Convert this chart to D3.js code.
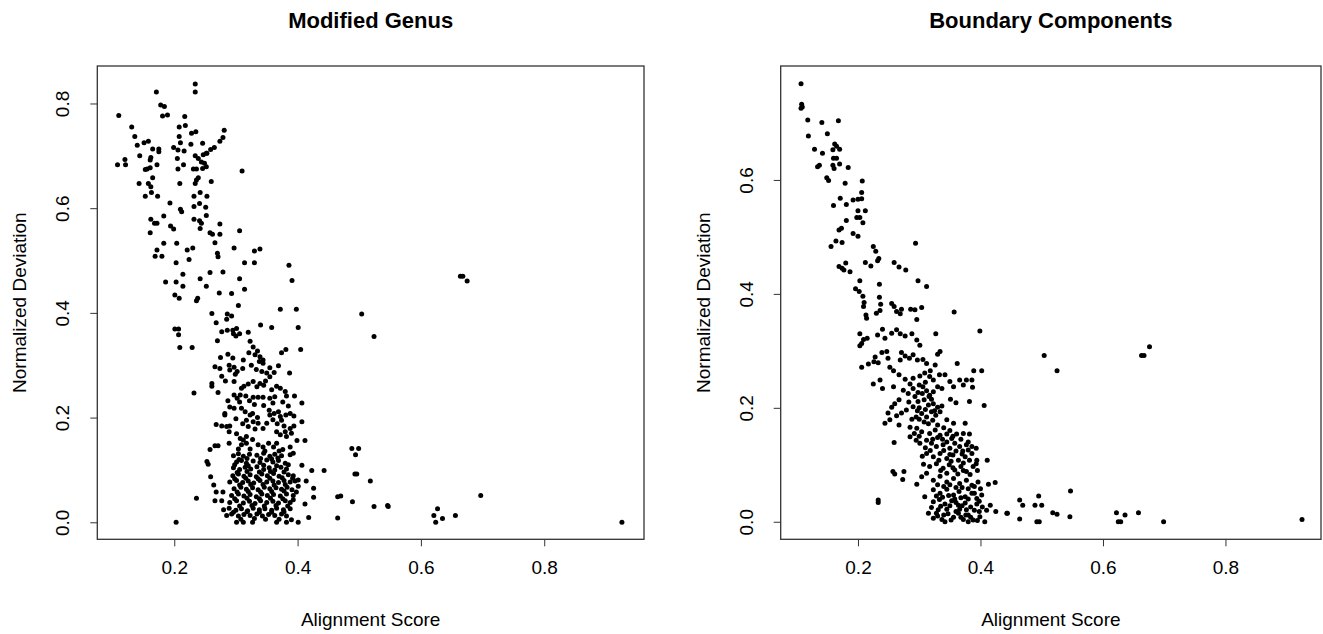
<!DOCTYPE html>
<html>
<head>
<meta charset="utf-8">
<script src="https://cdn.jsdelivr.net/npm/d3@7"></script>
<style>
  body { margin: 0; background: #fff; }
  text { font-family: "Liberation Sans", Arial, Helvetica, sans-serif; fill: #000; }
</style>
</head>
<body>
<div id="app"></div>
<script>
const container = document.querySelector('#app');

const width = 1323;
const height = 634;

// tick labels
const xTicks = [0.2, 0.4, 0.6, 0.8];
const genusYTicks = [0.0, 0.2, 0.4, 0.6, 0.8];
const boundaryYTicks = [0.0, 0.2, 0.4, 0.6];

// Modified Genus: [alignment score, normalized deviation]
const genusPoints = [
  [0.234,0.837],[0.234,0.822],[0.171,0.822],[0.178,0.797],[0.184,0.794],[0.181,0.776],[0.189,0.778],
  [0.110,0.777],[0.131,0.755],[0.136,0.737],[0.140,0.720],[0.151,0.725],[0.158,0.728],[0.217,0.775],
  [0.208,0.755],[0.218,0.758],[0.228,0.743],[0.235,0.746],[0.208,0.737],[0.246,0.724],[0.281,0.749],
  [0.279,0.735],[0.274,0.728],[0.265,0.716],[0.259,0.712],[0.253,0.705],[0.199,0.716],[0.206,0.711],
  [0.216,0.709],[0.210,0.725],[0.227,0.722],[0.165,0.713],[0.175,0.713],[0.175,0.708],[0.162,0.697],
  [0.161,0.692],[0.144,0.700],[0.108,0.683],[0.120,0.693],[0.121,0.683],[0.153,0.674],[0.161,0.677],
  [0.172,0.683],[0.156,0.675],[0.205,0.695],[0.206,0.675],[0.215,0.683],[0.234,0.700],[0.239,0.695],
  [0.247,0.702],[0.252,0.705],[0.244,0.688],[0.249,0.686],[0.252,0.679],[0.246,0.676],[0.236,0.675],
  [0.231,0.675],[0.310,0.671],[0.165,0.658],[0.143,0.647],[0.158,0.647],[0.162,0.641],[0.163,0.630],
  [0.173,0.623],[0.153,0.623],[0.209,0.647],[0.236,0.654],[0.239,0.658],[0.234,0.647],[0.260,0.651],
  [0.232,0.623],[0.242,0.630],[0.253,0.623],[0.193,0.610],[0.210,0.598],[0.212,0.593],[0.183,0.585],
  [0.232,0.603],[0.241,0.609],[0.251,0.602],[0.252,0.586],[0.232,0.579],[0.241,0.576],[0.244,0.571],
  [0.242,0.561],[0.162,0.579],[0.168,0.571],[0.172,0.571],[0.161,0.553],[0.194,0.566],[0.199,0.560],
  [0.258,0.553],[0.262,0.550],[0.274,0.550],[0.274,0.570],[0.306,0.557],[0.266,0.534],[0.183,0.533],
  [0.204,0.533],[0.172,0.520],[0.169,0.508],[0.180,0.508],[0.221,0.520],[0.230,0.524],[0.270,0.514],
  [0.271,0.507],[0.297,0.524],[0.330,0.518],[0.339,0.522],[0.203,0.496],[0.224,0.502],[0.314,0.496],
  [0.330,0.496],[0.386,0.491],[0.214,0.474],[0.258,0.477],[0.279,0.478],[0.391,0.462],[0.186,0.459],
  [0.203,0.459],[0.214,0.451],[0.242,0.465],[0.252,0.451],[0.306,0.465],[0.314,0.445],[0.273,0.438],
  [0.293,0.437],[0.201,0.434],[0.208,0.428],[0.238,0.428],[0.664,0.470],[0.668,0.470],[0.675,0.461],
  [0.236,0.423],[0.304,0.414],[0.372,0.407],[0.398,0.407],[0.261,0.399],[0.268,0.381],[0.286,0.398],
  [0.293,0.394],[0.285,0.388],[0.340,0.377],[0.358,0.372],[0.401,0.372],[0.201,0.369],[0.207,0.369],
  [0.207,0.358],[0.209,0.334],[0.229,0.334],[0.232,0.247],[0.203,0.000],[0.236,0.046],
  [0.277,0.364],[0.286,0.367],[0.295,0.367],[0.301,0.370],[0.296,0.360],[0.306,0.360],[0.320,0.363],
  [0.300,0.356],[0.270,0.347],[0.323,0.346],[0.328,0.335],[0.335,0.327],[0.339,0.316],[0.344,0.310],
  [0.374,0.324],[0.381,0.330],[0.405,0.330],[0.504,0.398],[0.524,0.355],
  [0.287,0.321],[0.295,0.314],[0.275,0.315],[0.266,0.297],[0.274,0.294],[0.289,0.300],[0.297,0.296],
  [0.311,0.294],[0.302,0.288],[0.277,0.279],[0.290,0.291],[0.299,0.283],
  [0.321,0.324],[0.331,0.320],[0.338,0.307],[0.344,0.304],[0.333,0.292],[0.342,0.288],[0.350,0.285],
  [0.355,0.278],[0.362,0.286],[0.369,0.299],[0.387,0.285],
  [0.297,0.269],[0.313,0.260],[0.309,0.256],[0.320,0.264],[0.328,0.269],[0.339,0.265],[0.345,0.262],
  [0.334,0.259],[0.261,0.265],[0.261,0.260],[0.271,0.248],
  [0.358,0.253],[0.366,0.260],[0.372,0.256],[0.382,0.241],[0.395,0.241],[0.363,0.240],[0.355,0.237],
  [0.344,0.239],[0.336,0.239],[0.328,0.239],[0.322,0.232],[0.316,0.241],[0.307,0.243],[0.302,0.237],
  [0.297,0.243],[0.287,0.232],[0.297,0.218],[0.282,0.208],[0.282,0.205],[0.407,0.228],
  [0.309,0.218],[0.315,0.211],[0.323,0.205],[0.327,0.208],[0.328,0.192],[0.317,0.195],[0.311,0.188],
  [0.320,0.183],[0.331,0.178],[0.336,0.189],[0.344,0.179],[0.350,0.189],[0.355,0.205],[0.354,0.214],
  [0.362,0.208],[0.369,0.211],[0.372,0.202],[0.381,0.205],[0.388,0.208],[0.394,0.203],[0.374,0.195],
  [0.367,0.188],[0.378,0.184],[0.388,0.179],[0.380,0.173],[0.372,0.167],[0.366,0.173],[0.382,0.164],
  [0.390,0.170],[0.394,0.184],[0.407,0.192],
  [0.268,0.187],[0.277,0.184],[0.285,0.183],[0.290,0.184],
  [0.289,0.173],[0.301,0.169],[0.307,0.160],[0.312,0.157],[0.317,0.164],[0.327,0.158],[0.309,0.148],
  [0.317,0.151],[0.289,0.151],
  [0.258,0.139],[0.266,0.146],[0.271,0.146],[0.253,0.116],[0.255,0.111],
  [0.336,0.148],[0.344,0.144],[0.353,0.151],[0.361,0.144],[0.366,0.151],[0.376,0.139],[0.388,0.144],
  [0.399,0.156],[0.412,0.156],[0.393,0.132],[0.388,0.129],
  [0.296,0.127],[0.304,0.131],[0.312,0.126],[0.322,0.130],[0.334,0.128],[0.345,0.132],[0.355,0.126],
  [0.363,0.130],[0.374,0.127],
  [0.301,0.115],[0.309,0.118],[0.317,0.113],[0.328,0.117],[0.339,0.114],[0.350,0.119],[0.360,0.115],
  [0.369,0.118],[0.380,0.113],
  [0.296,0.104],[0.306,0.101],[0.315,0.105],[0.324,0.102],[0.334,0.106],[0.345,0.101],[0.354,0.104],
  [0.363,0.100],[0.373,0.105],[0.382,0.102],
  [0.295,0.089],[0.304,0.092],[0.313,0.088],[0.323,0.091],[0.333,0.087],[0.342,0.092],[0.351,0.089],
  [0.361,0.093],[0.370,0.088],[0.385,0.091],[0.393,0.089],
  [0.290,0.077],[0.301,0.080],[0.311,0.076],[0.320,0.079],[0.329,0.075],[0.339,0.080],[0.350,0.077],
  [0.360,0.079],[0.369,0.076],[0.378,0.080],[0.388,0.077],[0.396,0.079],
  [0.297,0.064],[0.308,0.067],[0.317,0.063],[0.327,0.066],[0.336,0.062],[0.346,0.067],[0.355,0.064],
  [0.365,0.066],[0.374,0.063],[0.383,0.067],
  [0.293,0.051],[0.304,0.054],[0.313,0.050],[0.323,0.053],[0.333,0.049],[0.342,0.054],[0.351,0.051],
  [0.361,0.053],[0.372,0.050],[0.382,0.054],[0.393,0.051],
  [0.290,0.038],[0.301,0.041],[0.312,0.037],[0.322,0.040],[0.331,0.036],[0.340,0.041],[0.350,0.038],
  [0.360,0.040],[0.369,0.037],[0.380,0.041],[0.388,0.038],
  [0.280,0.024],[0.289,0.027],[0.300,0.023],[0.309,0.026],[0.319,0.022],[0.328,0.027],[0.338,0.024],
  [0.347,0.026],[0.358,0.023],[0.366,0.027],[0.377,0.024],[0.388,0.026],
  [0.285,0.013],[0.293,0.016],[0.304,0.012],[0.313,0.015],[0.323,0.013],[0.334,0.016],[0.343,0.012],
  [0.353,0.015],[0.363,0.013],[0.374,0.016],[0.382,0.012],
  [0.301,0.000],[0.312,0.000],[0.327,0.000],[0.366,0.000],[0.382,0.000],
  [0.305,0.120],[0.318,0.122],[0.340,0.122],[0.358,0.121],[0.368,0.123],
  [0.298,0.110],[0.320,0.108],[0.345,0.109],[0.366,0.108],[0.385,0.110],
  [0.302,0.095],[0.318,0.097],[0.338,0.096],[0.356,0.097],[0.378,0.096],
  [0.298,0.083],[0.316,0.084],[0.336,0.083],[0.355,0.084],[0.375,0.085],[0.392,0.084],
  [0.306,0.071],[0.324,0.072],[0.344,0.072],[0.362,0.071],[0.380,0.072],
  [0.302,0.058],[0.320,0.059],[0.340,0.058],[0.358,0.059],[0.378,0.060],[0.398,0.058],
  [0.298,0.045],[0.318,0.046],[0.338,0.045],[0.356,0.046],[0.376,0.045],
  [0.306,0.031],[0.326,0.032],[0.346,0.031],[0.365,0.032],[0.384,0.031],
  [0.296,0.019],[0.318,0.020],[0.338,0.019],[0.358,0.019],[0.378,0.020],
  [0.308,0.006],[0.330,0.007],[0.348,0.006],[0.370,0.006],[0.390,0.005],
  [0.304,0.140],[0.323,0.140],[0.347,0.136],[0.370,0.136],[0.300,0.198],[0.335,0.200],[0.360,0.196],
  [0.345,0.223],[0.360,0.228],[0.376,0.230],[0.385,0.222],[0.330,0.225],[0.306,0.230],[0.290,0.220],
  [0.380,0.250],[0.348,0.270],[0.355,0.295],[0.325,0.300],[0.312,0.310],[0.283,0.270],
  [0.259,0.087],[0.264,0.071],[0.268,0.058],[0.279,0.058],[0.266,0.041],[0.277,0.041],
  [0.407,0.109],[0.423,0.099],[0.443,0.099],[0.401,0.081],[0.414,0.079],[0.401,0.069],[0.426,0.065],
  [0.426,0.048],[0.412,0.035],[0.418,0.009],[0.391,0.062],[0.393,0.043],[0.401,0.000],[0.465,0.049],
  [0.470,0.050],[0.465,0.008],[0.489,0.039],[0.488,0.141],[0.499,0.141],[0.494,0.129],[0.493,0.092],
  [0.496,0.092],[0.518,0.079],[0.524,0.030],[0.546,0.032],[0.547,0.030],[0.697,0.051],[0.627,0.026],
  [0.621,0.013],[0.635,0.007],[0.624,0.000],[0.656,0.013],[0.926,0.000]
];

// Boundary Components: [alignment score, normalized deviation]
const boundaryPoints = [
  [0.107,0.769],[0.108,0.733],[0.109,0.728],[0.107,0.726],[0.118,0.705],[0.141,0.701],[0.168,0.704],
  [0.119,0.677],[0.150,0.681],[0.129,0.654],[0.142,0.647],[0.159,0.653],[0.162,0.663],[0.165,0.659],
  [0.170,0.654],[0.160,0.638],[0.165,0.638],[0.159,0.626],[0.170,0.628],[0.161,0.620],[0.184,0.622],
  [0.134,0.623],[0.137,0.626],[0.149,0.604],[0.152,0.599],[0.179,0.594],[0.207,0.598],[0.171,0.568],
  [0.160,0.555],[0.181,0.557],[0.192,0.565],[0.200,0.566],[0.206,0.567],[0.206,0.578],[0.200,0.546],
  [0.212,0.546],[0.198,0.534],[0.203,0.534],[0.208,0.525],[0.181,0.529],[0.169,0.512],[0.173,0.515],
  [0.192,0.506],[0.200,0.501],[0.156,0.483],[0.164,0.493],[0.174,0.490],[0.225,0.483],[0.229,0.475],
  [0.234,0.462],[0.232,0.458],[0.294,0.489],[0.169,0.448],[0.174,0.445],[0.180,0.454],[0.177,0.442],
  [0.187,0.439],[0.212,0.455],[0.221,0.449],[0.259,0.455],[0.267,0.447],[0.278,0.442],[0.203,0.423],
  [0.235,0.417],[0.298,0.423],[0.312,0.413],[0.196,0.409],[0.202,0.404],[0.208,0.396],[0.235,0.394],
  [0.210,0.385],[0.209,0.378],[0.213,0.363],[0.214,0.357],[0.237,0.382],[0.230,0.366],[0.236,0.371],
  [0.255,0.383],[0.259,0.378],[0.263,0.369],[0.269,0.365],[0.271,0.373],[0.286,0.373],[0.293,0.372],
  [0.296,0.355],[0.304,0.376],[0.357,0.368],[0.399,0.335],
  [0.203,0.330],[0.209,0.320],[0.206,0.313],[0.203,0.309],[0.215,0.322],
  [0.232,0.328],[0.240,0.338],[0.244,0.322],[0.255,0.331],[0.263,0.337],[0.269,0.330],[0.277,0.326],
  [0.288,0.330],[0.296,0.319],[0.301,0.310],[0.327,0.330],
  [0.206,0.271],[0.217,0.277],[0.226,0.281],[0.233,0.279],[0.228,0.289],[0.239,0.297],[0.247,0.299],
  [0.249,0.287],[0.252,0.271],[0.258,0.265],[0.269,0.284],[0.271,0.297],[0.277,0.291],[0.284,0.287],
  [0.290,0.293],[0.297,0.284],[0.306,0.285],[0.312,0.278],[0.318,0.265],[0.326,0.275],[0.330,0.294],
  [0.334,0.299],[0.362,0.278],[0.389,0.265],[0.402,0.265],
  [0.225,0.242],[0.236,0.249],[0.240,0.234],[0.258,0.237],
  [0.267,0.258],[0.277,0.250],[0.285,0.242],[0.290,0.252],[0.301,0.256],[0.309,0.261],[0.317,0.255],
  [0.323,0.249],[0.333,0.258],[0.342,0.258],[0.350,0.246],[0.356,0.237],[0.366,0.249],[0.372,0.240],
  [0.377,0.249],[0.386,0.249],[0.387,0.236],
  [0.274,0.231],[0.282,0.225],[0.290,0.234],[0.298,0.227],[0.306,0.237],[0.312,0.230],[0.317,0.222],
  [0.323,0.228],[0.330,0.237],[0.337,0.234],
  [0.267,0.214],[0.260,0.207],[0.255,0.201],[0.249,0.191],[0.244,0.173],[0.252,0.179],[0.263,0.186],
  [0.271,0.191],[0.279,0.196],[0.290,0.202],[0.298,0.211],[0.308,0.214],[0.316,0.220],[0.323,0.207],
  [0.330,0.201],[0.337,0.203],[0.351,0.215],[0.360,0.209],[0.382,0.211],[0.406,0.204],
  [0.288,0.180],[0.295,0.184],[0.304,0.190],[0.312,0.184],[0.320,0.193],[0.327,0.187],[0.334,0.193],
  [0.345,0.179],[0.356,0.173],[0.375,0.173],
  [0.267,0.170],[0.285,0.166],[0.296,0.164],[0.304,0.158],[0.317,0.155],[0.326,0.161],[0.334,0.152],
  [0.345,0.154],[0.353,0.146],[0.361,0.154],[0.372,0.155],[0.382,0.154],[0.259,0.139],
  [0.285,0.149],[0.295,0.143],[0.301,0.138],[0.312,0.143],[0.320,0.138],[0.328,0.132],[0.339,0.135],
  [0.350,0.129],[0.358,0.138],[0.366,0.132],[0.377,0.135],[0.386,0.132],[0.393,0.129],
  [0.312,0.120],[0.323,0.114],[0.334,0.120],[0.345,0.111],[0.355,0.117],[0.364,0.108],[0.375,0.114],
  [0.386,0.120],[0.394,0.108],[0.411,0.108],
  [0.307,0.101],[0.317,0.097],[0.328,0.102],[0.339,0.094],[0.349,0.100],[0.358,0.091],[0.368,0.097],
  [0.377,0.088],[0.388,0.097],[0.393,0.102],
  [0.257,0.088],[0.260,0.084],[0.275,0.088],[0.273,0.074],[0.296,0.066],[0.304,0.079],[0.312,0.085],
  [0.323,0.073],[0.334,0.080],[0.345,0.070],[0.356,0.076],[0.366,0.067],[0.377,0.073],[0.386,0.064],
  [0.396,0.070],[0.413,0.066],[0.424,0.069],
  [0.323,0.056],[0.334,0.050],[0.345,0.057],[0.356,0.047],[0.365,0.053],[0.375,0.044],[0.386,0.050],
  [0.394,0.041],[0.402,0.047],
  [0.309,0.044],[0.323,0.035],[0.333,0.039],[0.342,0.031],[0.353,0.037],[0.364,0.029],[0.375,0.033],
  [0.384,0.026],[0.394,0.031],[0.403,0.026],[0.416,0.029],[0.425,0.018],[0.443,0.015],
  [0.233,0.038],[0.233,0.034],
  [0.315,0.015],[0.323,0.006],[0.330,0.010],[0.337,0.004],[0.347,0.014],[0.356,0.008],[0.364,0.015],
  [0.372,0.004],[0.380,0.012],[0.388,0.003],[0.399,0.009],[0.407,0.000],[0.331,0.021],[0.345,0.022],
  [0.366,0.022],[0.377,0.021],
  [0.340,0.125],[0.350,0.118],[0.360,0.124],[0.370,0.119],[0.380,0.126],[0.332,0.108],[0.352,0.106],
  [0.372,0.103],[0.382,0.108],
  [0.335,0.090],[0.345,0.085],[0.355,0.095],[0.363,0.084],[0.372,0.090],[0.383,0.083],[0.395,0.090],
  [0.330,0.065],[0.340,0.062],[0.350,0.065],[0.360,0.060],[0.370,0.060],[0.380,0.058],[0.390,0.062],
  [0.400,0.058],
  [0.328,0.045],[0.338,0.043],[0.348,0.046],[0.358,0.040],[0.368,0.042],[0.380,0.040],[0.390,0.050],
  [0.398,0.036],
  [0.320,0.025],[0.335,0.027],[0.350,0.028],[0.360,0.034],[0.370,0.028],[0.390,0.020],[0.398,0.018],
  [0.410,0.020],
  [0.328,0.015],[0.340,0.012],[0.352,0.003],[0.360,0.018],[0.368,0.008],[0.376,0.012],[0.384,0.008],
  [0.395,0.002],[0.342,0.000],[0.380,0.000],
  [0.300,0.200],[0.305,0.225],[0.310,0.245],[0.300,0.240],[0.315,0.205],[0.320,0.215],[0.310,0.197],
  [0.325,0.195],[0.300,0.180],[0.315,0.172],[0.322,0.178],[0.308,0.175],[0.297,0.195],[0.293,0.220],
  [0.283,0.210],[0.330,0.170],[0.340,0.165],[0.350,0.160],[0.338,0.145],[0.330,0.148],[0.322,0.145],
  [0.310,0.130],[0.318,0.125],[0.305,0.115],[0.300,0.150],[0.292,0.155],[0.345,0.140],[0.355,0.150],
  [0.368,0.145],[0.380,0.140],[0.371,0.124],
  [0.504,0.292],[0.525,0.265],[0.663,0.292],[0.667,0.292],[0.676,0.307],[0.547,0.054],[0.444,0.015],
  [0.464,0.038],[0.469,0.029],[0.464,0.005],[0.495,0.045],[0.489,0.029],[0.500,0.029],[0.492,0.000],
  [0.496,0.000],[0.518,0.016],[0.525,0.013],[0.546,0.009],[0.622,0.016],[0.636,0.012],[0.625,0.000],
  [0.629,0.000],[0.658,0.016],[0.699,0.000],[0.925,0.004]
];

const svg = d3.create("svg")
    .attr("width", width)
    .attr("height", height);

// one R-style panel: box, ticks, labels, dots
function drawPanel(opts) {
  const x = d3.scaleLinear().domain(opts.xDomain).range([opts.left, opts.right]);
  const y = d3.scaleLinear().domain(opts.yDomain).range([opts.bottom, opts.top]);
  const g = svg.append("g");

  // x axis
  g.append("g")
      .attr("transform", `translate(0,${opts.bottom})`)
      .call(d3.axisBottom(x).tickValues(xTicks).tickSize(7).tickPadding(14).tickFormat(d3.format(".1f")))
      .call(a => a.select(".domain").remove())
      .call(a => a.selectAll("line").attr("stroke", "#333"))
      .call(a => a.selectAll("text").attr("font-size", 19).attr("fill", "#000")
          .style("font-family", "'Liberation Sans', Arial, sans-serif"));

  // y axis, labels rotated like R's las=0
  const yAxis = g.append("g")
      .attr("transform", `translate(${opts.left},0)`)
      .call(d3.axisLeft(y).tickValues(opts.yTicks).tickSize(7).tickFormat(d3.format(".1f")));
  yAxis.select(".domain").remove();
  yAxis.selectAll("line").attr("stroke", "#333");
  yAxis.selectAll("text")
      .attr("x", null).attr("dy", null)
      .attr("text-anchor", "middle")
      .attr("transform", "translate(-28,0) rotate(-90)")
      .attr("font-size", 19).attr("fill", "#000")
      .style("font-family", "'Liberation Sans', Arial, sans-serif");

  // plot box
  g.append("rect")
      .attr("x", opts.left).attr("y", opts.top)
      .attr("width", opts.right - opts.left).attr("height", opts.bottom - opts.top)
      .attr("fill", "none").attr("stroke", "#333").attr("stroke-width", 1.3);

  g.append("g").selectAll("circle")
    .data(opts.points)
    .join("circle")
      .attr("cx", d => x(d[0]))
      .attr("cy", d => y(d[1]))
      .attr("r", 2.5)
      .attr("fill", "#000");

  const cx = (opts.left + opts.right) / 2;
  g.append("text")
      .attr("x", cx).attr("y", 28)
      .attr("text-anchor", "middle")
      .attr("font-size", 22).attr("font-weight", "bold")
      .text(opts.title);

  g.append("text")
      .attr("x", cx).attr("y", 626)
      .attr("text-anchor", "middle")
      .attr("font-size", 19)
      .text("Alignment Score");

  g.append("text")
      .attr("transform", `translate(${opts.left - 71},${(opts.top + opts.bottom) / 2}) rotate(-90)`)
      .attr("text-anchor", "middle")
      .attr("font-size", 19)
      .text("Normalized Deviation");
}

drawPanel({
  title: "Modified Genus",
  points: genusPoints,
  xDomain: [0.0752, 0.9618], yDomain: [-0.0325, 0.8716], yTicks: genusYTicks,
  left: 97.3, right: 644, top: 66, bottom: 539.3
});

drawPanel({
  title: "Boundary Components",
  points: boundaryPoints,
  xDomain: [0.0738, 0.956], yDomain: [-0.0308, 0.800], yTicks: boundaryYTicks,
  left: 780.7, right: 1321, top: 66, bottom: 539.3
});

container.append(svg.node());
</script>
</body>
</html>
